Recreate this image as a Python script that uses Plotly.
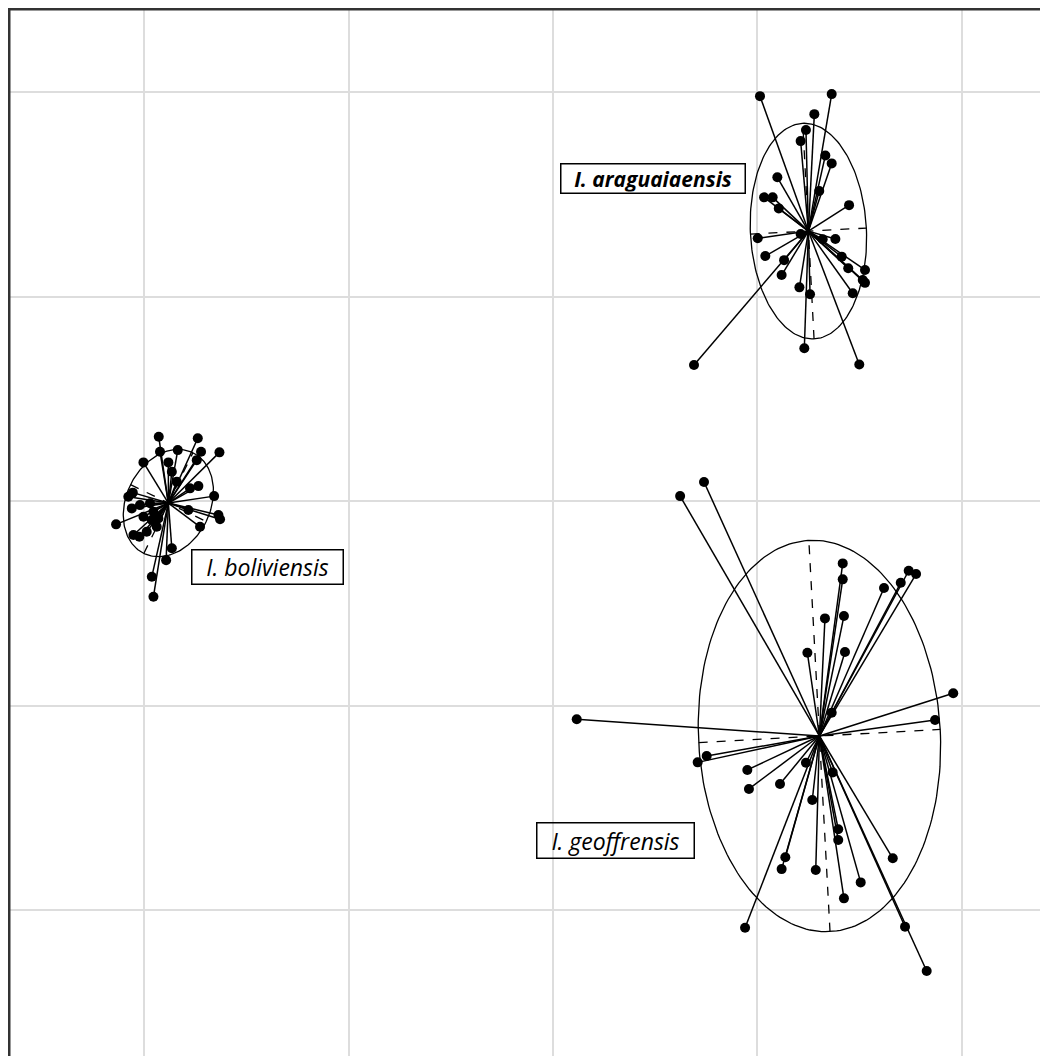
import numpy as np
import plotly.graph_objects as go

# ---- data (discriminant-space coordinates) ----
arag_x = [1.013, 1.364, 1.279, 1.238, 1.212, 1.333, 1.364, 1.098, 1.303, 1.033, 1.075, 1.105, 1.449,
          1.002, 1.212, 1.382, 1.320, 1.039, 1.131, 1.413, 1.445, 1.527, 1.516, 1.527, 1.119, 1.206,
          1.258, 1.467, 1.230, 0.690, 1.499]
arag_y = [1.980, 1.990, 1.892, 1.814, 1.760, 1.690, 1.651, 1.583, 1.516, 1.485, 1.485, 1.431, 1.447,
          1.285, 1.306, 1.281, 1.280, 1.198, 1.178, 1.195, 1.138, 1.130, 1.081, 1.067, 1.105, 1.045,
          1.011, 1.016, 0.747, 0.665, 0.668]

geof_x = [0.739, 0.622, 1.418, 1.418, 1.741, 1.777, 1.702, 1.620, 1.331, 1.424, 1.245, 1.429, 1.959,
          1.364, 1.870, 0.116, 0.752, 0.708, 0.951, 0.959, 1.111, 1.238, 1.369, 1.269, 1.396, 1.396,
          1.137, 1.119, 1.286, 1.663, 1.506, 1.424, 0.940, 1.723, 1.829]
geof_y = [0.093, 0.024, -0.305, -0.383, -0.341, -0.357, -0.400, -0.425, -0.574, -0.562, -0.742, -0.738,
          -0.940, -1.035, -1.071, -1.067, -1.247, -1.278, -1.315, -1.408, -1.384, -1.280, -1.327, -1.462,
          -1.605, -1.658, -1.742, -1.800, -1.804, -1.747, -1.865, -1.943, -2.087, -2.082, -2.298]

boli_x = [-1.930, -1.739, -1.633, -1.837, -1.924, -1.723, -2.005, -1.883, -1.744, -1.866, -1.842, -1.736,
          -1.777, -2.057, -1.659, -2.062, -2.139, -1.638, -1.630, -1.728, -1.785, -1.866, -1.894, -1.964,
          -1.956, -2.054, -2.025, -1.989, -1.964, -1.932, -2.005, -1.956, -2.022, -1.973, -1.940, -2.079]
boli_y = [0.314, 0.307, 0.238, 0.249, 0.241, 0.241, 0.189, 0.189, 0.200, 0.143, 0.094, 0.073,
          0.062, 0.041, 0.024, -0.036, -0.114, -0.068, -0.089, -0.126, -0.044, -0.231, -0.289, -0.370,
          -0.468, -0.166, -0.175, -0.150, -0.093, -0.085, -0.077, -0.052, -0.020, -0.011, -0.126, 0.021]

# group centre, horizontal semi-axis, vertical semi-axis, rotation (deg, CCW)
group_names = ["I. araguaiaensis", "I. geoffrensis", "I. boliviensis"]
group_cx = [1.250, 1.304, -1.883]
group_cy = [1.320, -1.149, -0.010]
ell_a = [0.284, 0.592, 0.206]
ell_b = [0.528, 0.958, 0.274]
ell_rot = [3.0, 3.1, -26.0]

label_x = [0.487, 0.308, -1.397]
label_y = [1.579, -1.658, -0.325]
label_bold = [True, False, False]
label_w = [181, 154, 148]
label_h = [26, 32, 31]

groups_x = [arag_x, geof_x, boli_x]
groups_y = [arag_y, geof_y, boli_y]

fig = go.Figure()

for gi in range(3):
    cx, cy = group_cx[gi], group_cy[gi]
    th = np.deg2rad(ell_rot[gi])
    a, b = ell_a[gi], ell_b[gi]
    # ellipse
    t = np.linspace(0, 2 * np.pi, 200)
    u, v = a * np.cos(t), b * np.sin(t)
    ex = cx + u * np.cos(th) - v * np.sin(th)
    ey = cy + u * np.sin(th) + v * np.cos(th)
    fig.add_trace(go.Scatter(x=ex, y=ey, mode="lines", line=dict(color="black", width=1.3),
                             hoverinfo="skip", showlegend=False))
    # dashed axes
    ax_x = [cx - a * np.cos(th), cx + a * np.cos(th), None,
            cx + b * np.sin(th), cx - b * np.sin(th)]
    ax_y = [cy - a * np.sin(th), cy + a * np.sin(th), None,
            cy - b * np.cos(th), cy + b * np.cos(th)]
    fig.add_trace(go.Scatter(x=ax_x, y=ax_y, mode="lines",
                             line=dict(color="black", width=1.3, dash="dash"),
                             hoverinfo="skip", showlegend=False))
    # star segments
    sx, sy = [], []
    for px, py in zip(groups_x[gi], groups_y[gi]):
        sx += [cx, px, None]
        sy += [cy, py, None]
    fig.add_trace(go.Scatter(x=sx, y=sy, mode="lines", line=dict(color="black", width=1.5),
                             hoverinfo="skip", showlegend=False))
    fig.add_trace(go.Scatter(x=groups_x[gi], y=groups_y[gi], mode="markers",
                             marker=dict(color="black", size=10),
                             name=group_names[gi], showlegend=False))

for gi in range(3):
    txt = group_names[gi]
    if label_bold[gi]:
        txt = "<b><i>" + txt + "</i></b>"
    else:
        txt = "<i>" + txt + "</i>"
    fig.add_annotation(x=label_x[gi], y=label_y[gi], text=txt, showarrow=False,
                       font=dict(family="Open Sans", size=23 if not label_bold[gi] else 21,
                                 color="black"),
                       bgcolor="rgba(0,0,0,0)", bordercolor="black", borderwidth=1.5, borderpad=1,
                       width=label_w[gi], height=label_h[gi], align="center", valign="middle")

fig.update_layout(
    width=1048, height=1056,
    margin=dict(l=0, r=0, t=0, b=0, pad=0),
    paper_bgcolor="white", plot_bgcolor="white",
    xaxis=dict(range=[-2.668, 2.462], dtick=1, tick0=0, showticklabels=False, ticks="",
               showgrid=True, gridcolor="#dddddd", gridwidth=1.5,
               zeroline=True, zerolinecolor="#dddddd", zerolinewidth=1.5, showline=False),
    yaxis=dict(range=[-2.753, 2.411], dtick=1, tick0=0, showticklabels=False, ticks="",
               showgrid=True, gridcolor="#dddddd", gridwidth=1.5,
               zeroline=True, zerolinecolor="#dddddd", zerolinewidth=1.5, showline=False),
    shapes=[
        dict(type="line", xref="paper", yref="paper", x0=0, x1=1, y0=1, y1=1,
             line=dict(color="#333333", width=5), layer="above"),
        dict(type="line", xref="paper", yref="paper", x0=0, x1=0, y0=0, y1=1,
             line=dict(color="#333333", width=5), layer="above"),
    ],
)

fig.write_html("out.html")
